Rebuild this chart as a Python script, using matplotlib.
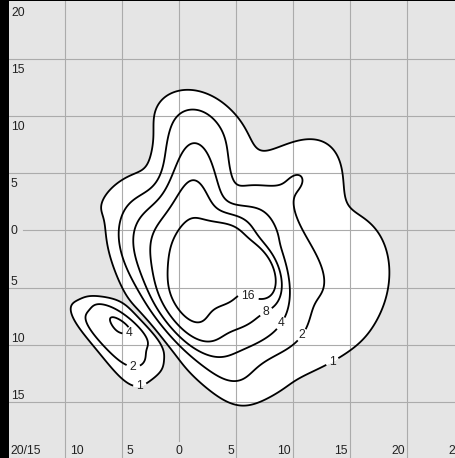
import numpy as np
import matplotlib
matplotlib.use("Agg")
import matplotlib.pyplot as plt

# density surface = sum of gaussian bumps
amp = [18.87, 2.28, 8.31, 1.92, 1.42, 1.46, 1.33, 0.51, 0.45, 47.47, 11.72, 29.94, 2.17, 2.60, 2.27]
cx = [2.38, 8.74, 1.29, 1.84, -4.90, 10.17, 13.91, 0.47, -5.46, 6.77, 0.77, 3.01, -4.97, 3.37, -6.40]
cy = [-3.53, -0.25, 2.01, 8.84, -10.07, 4.51, -4.53, -12.19, 3.64, -3.47, -7.06, -2.12, -8.17, -6.02, -8.74]
sx = [4.18, 3.54, 1.53, 3.60, 1.43, 3.15, 8.00, 8.00, 4.12, 0.85, 1.17, 1.28, 0.50, 1.97, 2.78]
sy = [2.47, 1.24, 3.43, 2.51, 3.74, 2.11, 5.84, 1.45, 0.94, 1.42, 2.27, 2.13, 1.90, 5.50, 0.95]
angle = [141.7, 127.4, 1.3, 149.5, 19.6, 51.1, 76.8, 166.6, 41.6, 26.5, 36.1, 136.3, 54.4, 11.9, 143.9]

levels = [1, 2, 4, 8, 16]
xticks = [-10, -5, 0, 5, 10, 15, 20, 25]
xlabels = ["10", "5", "0", "5", "10", "15", "20", "25"]
yticks = [20, 15, 10, 5, 0, -5, -10, -15]
ylabels = ["20", "15", "10", "5", "0", "5", "10", "15"]
corner = "20/15"

xs = np.linspace(-15.2, 24.6, 500)
ys = np.linspace(-20.3, 20.4, 500)
X, Y = np.meshgrid(xs, ys)
Z = np.zeros_like(X)
for a, mx, my, s1, s2, th in zip(amp, cx, cy, sx, sy, angle):
    t = np.radians(th)
    u = np.cos(t) * (X - mx) + np.sin(t) * (Y - my)
    v = -np.sin(t) * (X - mx) + np.cos(t) * (Y - my)
    Z += a * np.exp(-0.5 * ((u / s1) ** 2 + (v / s2) ** 2))

fig = plt.figure(figsize=(4.56, 4.58), dpi=100, facecolor="black")
ax = fig.add_axes([9 / 456, 0, 447 / 456, 457 / 458])
ax.set_facecolor("#e5e5e5")
ax.set_xlim(-14.92, 24.26)
ax.set_ylim(-19.94, 20.11)
for sp in ax.spines.values():
    sp.set_visible(False)
ax.set_xticks([])
ax.set_yticks([])

# white fill inside the outer contour
ax.contourf(X, Y, Z, levels=[levels[0], Z.max() + 1], colors=["white"], zorder=0.5)

grid_c = "#ababab"
for v in xticks:
    if v == 0:
        ax.axvline(v, ymin=17 / 457, ymax=1, color=grid_c, lw=0.8, zorder=1)
    else:
        ax.axvline(v, color=grid_c, lw=0.8, zorder=1)
for v in yticks[1:]:
    if v == 0:
        ax.axhline(v, xmin=14 / 447, xmax=1, color=grid_c, lw=0.8, zorder=1)
    else:
        ax.axhline(v, color=grid_c, lw=0.8, zorder=1)

cs = ax.contour(X, Y, Z, levels=levels, colors="black", linewidths=1.3, zorder=3)
label_pos = [(6.03, -5.83), (7.68, -7.26), (9.01, -8.20), (10.76, -9.16),
             (13.21, -11.11), (-4.30, -9.16), (-4.03, -11.96), (-3.54, -13.16)]
texts = ax.clabel(cs, fmt="%d", manual=label_pos, inline=True, inline_spacing=3,
                  fontsize=8.7, colors="#222222")
for t in texts:
    t.set_rotation(0)
    t.set_family("Liberation Sans")

lab = dict(fontsize=8.7, color="#222222", family="Liberation Sans",
           textcoords="offset pixels", va="baseline", annotation_clip=False)
for v, s in zip(yticks, ylabels):
    dy = -13.5 if v > 0 else (-3.8 if v == 0 else 3)
    ax.annotate(s, (0, v), xycoords=("axes fraction", "data"), xytext=(2, dy), ha="left", **lab)
for v, s in zip(xticks, xlabels):
    if v < 0:
        ha, dx = "left", 4.5
    elif v == 0:
        ha, dx = "center", 0
    else:
        ha, dx = "right", -2.5
    ax.annotate(s, (v, 0), xycoords=("data", "axes fraction"), xytext=(dx, 4), ha=ha, **lab)
ax.annotate(corner, (0, 0), xycoords="axes fraction", xytext=(1, 4), ha="left", **lab)

fig.savefig("out.png", dpi=100, facecolor=fig.get_facecolor())
